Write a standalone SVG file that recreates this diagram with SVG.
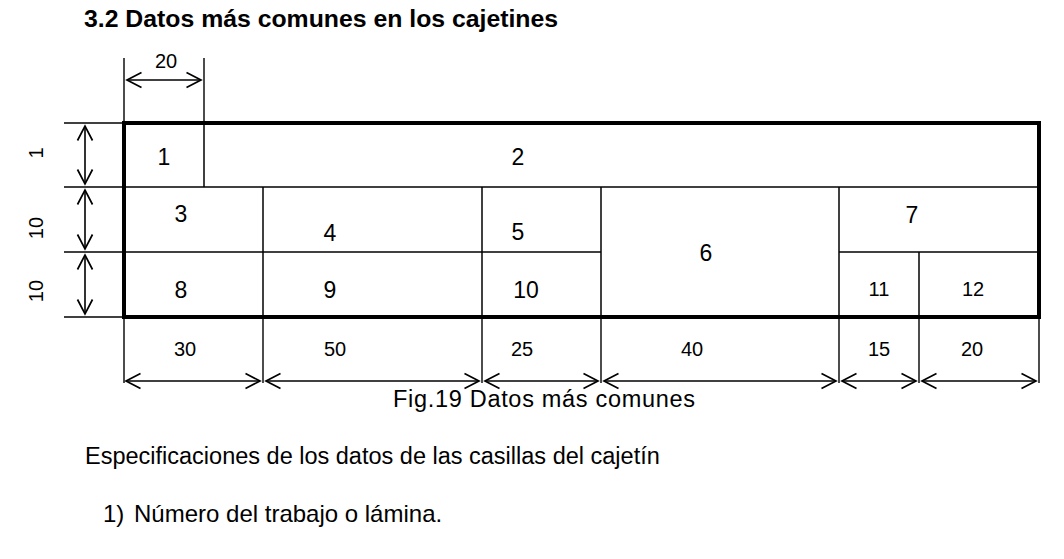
<svg xmlns="http://www.w3.org/2000/svg" width="1064" height="559" viewBox="0 0 1064 559">
<defs>
<marker id="ah" markerUnits="userSpaceOnUse" markerWidth="18" markerHeight="20" viewBox="-16 -10 18 20" refX="0" refY="0" orient="auto-start-reverse">
<path d="M-14.5,-7.5 L0,0 L-14.5,7.5" fill="none" stroke="#000" stroke-width="1.7"/>
</marker>
<style>
.t{font-family:"Liberation Sans",Arial,sans-serif;fill:#000}
.cell{font-size:23px;text-anchor:middle}
.small{font-size:20px;text-anchor:middle}
.dim{font-size:20px;text-anchor:middle}
.thin{stroke:#000;stroke-width:1.5;fill:none}
.ext{stroke:#000;stroke-width:1.4;fill:none}
.arr{stroke:#000;stroke-width:1.6;fill:none;marker-start:url(#ah);marker-end:url(#ah)}
</style>
</defs>
<rect width="1064" height="559" fill="#fff"/>
<text class="t" x="84" y="27" font-size="24.8" font-weight="bold">3.2 Datos más comunes en los cajetines</text>

<g id="grid">
<line class="thin" x1="204" y1="123" x2="204" y2="187"/>
<line class="thin" x1="124" y1="187" x2="1039" y2="187"/>
<line class="thin" x1="124" y1="252" x2="601" y2="252"/>
<line class="thin" x1="839" y1="252" x2="1039" y2="252"/>
<line class="thin" x1="263" y1="187" x2="263" y2="317"/>
<line class="thin" x1="482" y1="187" x2="482" y2="317"/>
<line class="thin" x1="601" y1="187" x2="601" y2="317"/>
<line class="thin" x1="839" y1="187" x2="839" y2="317"/>
<line class="thin" x1="919" y1="252" x2="919" y2="317"/>
<rect x="124" y="123" width="915" height="194" fill="none" stroke="#000" stroke-width="4"/>
</g>

<g id="cell1"><text class="t cell" x="164" y="165">1</text></g>
<g id="cell2"><text class="t cell" x="518" y="165">2</text></g>
<g id="cell3"><text class="t cell" x="181" y="222">3</text></g>
<g id="cell4"><text class="t cell" x="330" y="241">4</text></g>
<g id="cell5"><text class="t cell" x="518" y="240">5</text></g>
<g id="cell6"><text class="t cell" x="706" y="261">6</text></g>
<g id="cell7"><text class="t cell" x="912" y="223">7</text></g>
<g id="cell8"><text class="t cell" x="181" y="298">8</text></g>
<g id="cell9"><text class="t cell" x="330" y="298">9</text></g>
<g id="cell10"><text class="t cell" x="526" y="298">10</text></g>
<g id="cell11"><text class="t small" x="879" y="296">11</text></g>
<g id="cell12"><text class="t small" x="973" y="296">12</text></g>

<g id="connectors">
<line class="ext" x1="124" y1="58" x2="124" y2="123"/>
<line class="ext" x1="204" y1="58" x2="204" y2="123"/>
<line class="arr" x1="127" y1="80" x2="201" y2="80"/>
<line class="ext" x1="64" y1="123" x2="124" y2="123"/>
<line class="ext" x1="64" y1="187" x2="124" y2="187"/>
<line class="ext" x1="64" y1="252" x2="124" y2="252"/>
<line class="ext" x1="64" y1="317" x2="124" y2="317"/>
<line class="arr" x1="85" y1="126" x2="85" y2="184"/>
<line class="arr" x1="85" y1="190" x2="85" y2="249"/>
<line class="arr" x1="85" y1="255" x2="85" y2="314"/>
<line class="ext" x1="124" y1="317" x2="124" y2="383"/>
<line class="ext" x1="263" y1="317" x2="263" y2="383"/>
<line class="ext" x1="482" y1="317" x2="482" y2="383"/>
<line class="ext" x1="601" y1="317" x2="601" y2="383"/>
<line class="ext" x1="839" y1="317" x2="839" y2="383"/>
<line class="ext" x1="919" y1="317" x2="919" y2="383"/>
<line class="ext" x1="1039" y1="317" x2="1039" y2="383"/>
<line class="arr" x1="126" y1="381" x2="260" y2="381"/>
<line class="arr" x1="266" y1="381" x2="479" y2="381"/>
<line class="arr" x1="485" y1="381" x2="598" y2="381"/>
<line class="arr" x1="604" y1="381" x2="836" y2="381"/>
<line class="arr" x1="842" y1="381" x2="916" y2="381"/>
<line class="arr" x1="922" y1="381" x2="1036" y2="381"/>
</g>

<g id="dims">
<text class="t dim" x="166" y="68">20</text>
<text class="t dim" transform="translate(43,153) rotate(-90)">1</text>
<text class="t dim" transform="translate(43,228) rotate(-90)">10</text>
<text class="t dim" transform="translate(43,291) rotate(-90)">10</text>
<text class="t dim" x="185" y="356">30</text>
<text class="t dim" x="335" y="356">50</text>
<text class="t dim" x="522" y="356">25</text>
<text class="t dim" x="692" y="356">40</text>
<text class="t dim" x="879" y="356">15</text>
<text class="t dim" x="972" y="356">20</text>
</g>

<text class="t" x="393" y="407" font-size="23.5" textLength="302" lengthAdjust="spacing">Fig.19 Datos más comunes</text>
<text class="t" x="85" y="464" font-size="23.5">Especificaciones de los datos de las casillas del cajetín</text>
<text class="t" x="103" y="522" font-size="24">1)</text>
<text class="t" x="134" y="522" font-size="24">Número del trabajo o lámina.</text>
</svg>
